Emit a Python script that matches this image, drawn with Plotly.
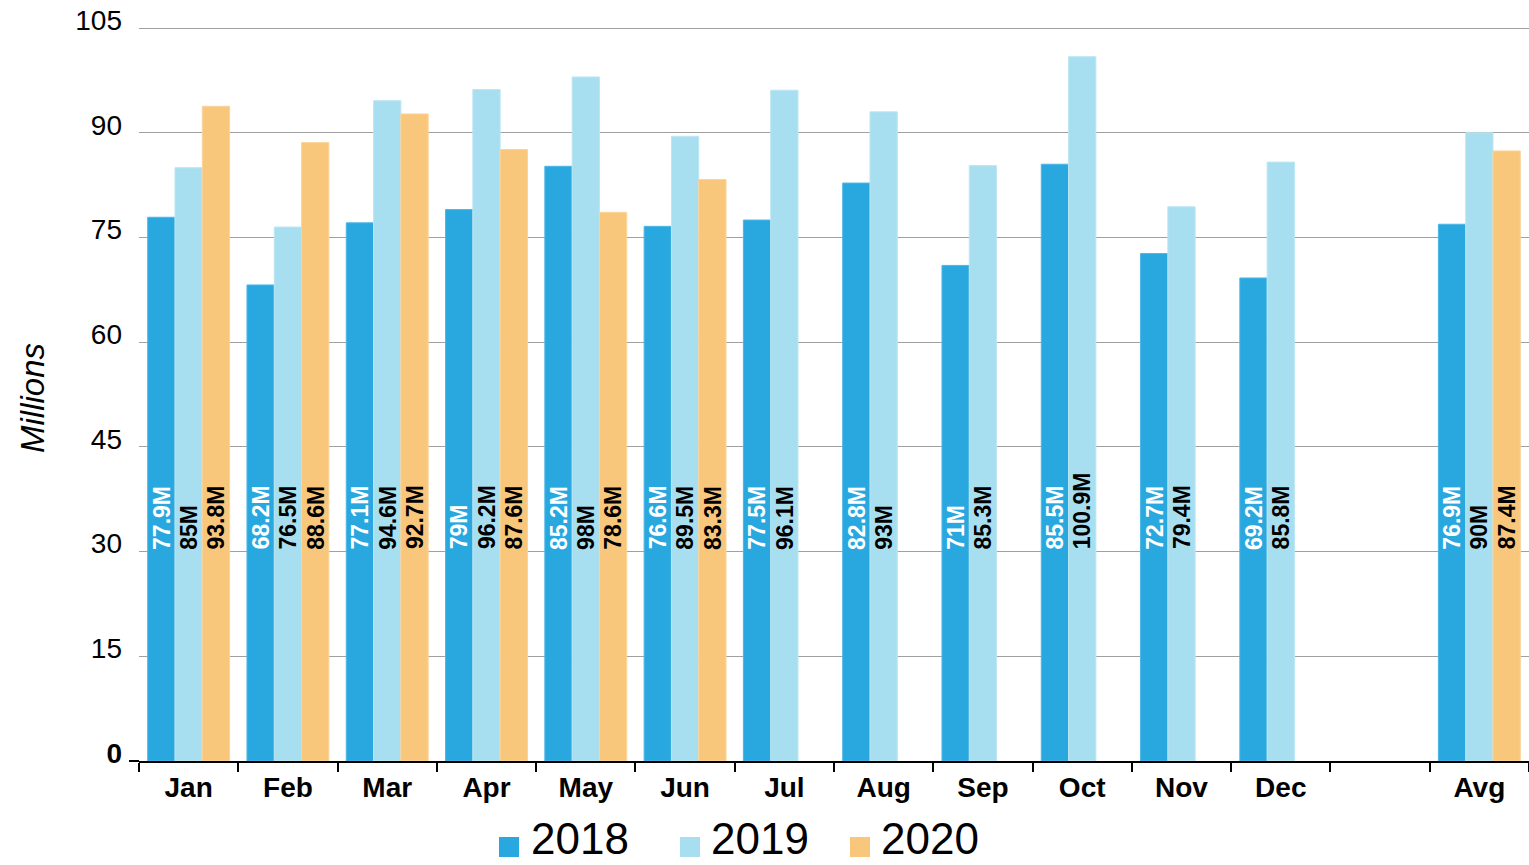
import plotly.graph_objects as go

categories = ["Jan", "Feb", "Mar", "Apr", "May", "Jun", "Jul", "Aug", "Sep", "Oct", "Nov", "Dec", " ", "Avg"]
v2018 = [77.9, 68.2, 77.1, 79, 85.2, 76.6, 77.5, 82.8, 71, 85.5, 72.7, 69.2, None, 76.9]
v2019 = [85, 76.5, 94.6, 96.2, 98, 89.5, 96.1, 93, 85.3, 100.9, 79.4, 85.8, None, 90]
v2020 = [93.8, 88.6, 92.7, 87.6, 78.6, 83.3, None, None, None, None, None, None, None, 87.4]
series_names = ["2018", "2019", "2020"]
y_ticks = [0, 15, 30, 45, 60, 75, 90, 105]

colors = ["#29A8E0", "#A8DFF0", "#F9C77B"]
line_colors = ["#4DB6E5", "#BCE6F3", "#FAD49A"]
label_colors = ["white", "black", "black"]
FONT = "Liberation Sans, Arial, sans-serif"

# plot area geometry (pixels) for paper-coordinate helpers
L, R, T, B, W, H = 139, 0, 26, 104, 1529, 865
PW, PH = W - L - R, H - T - B
def px_x(px):
    return (px - L) / PW
def px_y(py):
    return (H - B - py) / PH

fig = go.Figure()
all_vals = [v2018, v2019, v2020]
for name, vals, c, lc in zip(series_names, all_vals, colors, line_colors):
    fig.add_trace(go.Bar(x=categories, y=vals, name=name, showlegend=False,
                         marker=dict(color=c, line=dict(color=lc, width=1))))

# value labels (rotated, fixed baseline)
shifts = [-27.3, 0, 27.3]
label_base = 30.0
for vals, sh, tc in zip(all_vals, shifts, label_colors):
    for cat, v in zip(categories, vals):
        if v is None:
            continue
        txt = f"{v:g}M"
        fig.add_annotation(x=cat, y=label_base, xref="x", yref="y", text=f"<b>{txt}</b>",
                           textangle=-90, showarrow=False, xanchor="center", yanchor="bottom",
                           xshift=sh, font=dict(family=FONT, size=23, color=tc))

# y-axis title
fig.add_annotation(x=px_x(32), y=px_y(398), xref="paper", yref="paper", text="<i>Millions</i>",
                   textangle=-90, showarrow=False, xanchor="center", yanchor="middle",
                   font=dict(family=FONT, size=33, color="black"))

# legend (drawn as squares + text)
legend_sq_x = [499, 680, 850]
legend_tx_x = [529, 709, 879]
for name, c, sx, tx in zip(series_names, colors, legend_sq_x, legend_tx_x):
    fig.add_shape(type="rect", xref="paper", yref="paper",
                  x0=px_x(sx), x1=px_x(sx + 20), y0=px_y(857), y1=px_y(837),
                  fillcolor=c, line=dict(width=0))
    fig.add_annotation(x=px_x(tx), y=px_y(838), xref="paper", yref="paper", text=name,
                       showarrow=False, xanchor="left", yanchor="middle",
                       font=dict(family=FONT, size=44, color="black"))

# small extension of the x axis line to the left
fig.add_shape(type="line", xref="paper", yref="paper", x0=px_x(129), x1=0, y0=0, y1=0,
              line=dict(color="black", width=2))

tick_text = [f"<b>{t}</b>" if t == 0 else str(t) for t in y_ticks]
x_ticktext = ["" if c.strip() == "" else f"<b>{c}</b>" for c in categories]

fig.update_layout(
    width=W, height=H,
    margin=dict(l=L, r=R, t=T, b=B, autoexpand=False),
    paper_bgcolor="white", plot_bgcolor="white",
    barmode="group", bargap=0.175, bargroupgap=0,
    font=dict(family=FONT, color="black"),
    showlegend=False,
    xaxis=dict(type="category", categoryorder="array", categoryarray=categories,
               tickvals=categories, ticktext=x_ticktext, tickson="boundaries",
               ticks="outside", ticklen=9, tickwidth=2, tickcolor="black",
               showline=True, linecolor="black", linewidth=2,
               tickfont=dict(family=FONT, size=28, color="black"), showgrid=False,
               range=[-0.5, len(categories) - 0.5]),
    yaxis=dict(range=[0, 105.3], tickvals=y_ticks, ticktext=tick_text,
               showgrid=True, gridcolor="#A0A0A0", gridwidth=1, zeroline=False,
               tickfont=dict(family=FONT, size=28, color="black"),
               ticklabelstandoff=16, ticklabelshift=-8, showline=False),
)

fig.write_html("out.html", config={"displayModeBar": False},
               post_script="document.body.style.margin='0';document.body.style.overflow='hidden';")
